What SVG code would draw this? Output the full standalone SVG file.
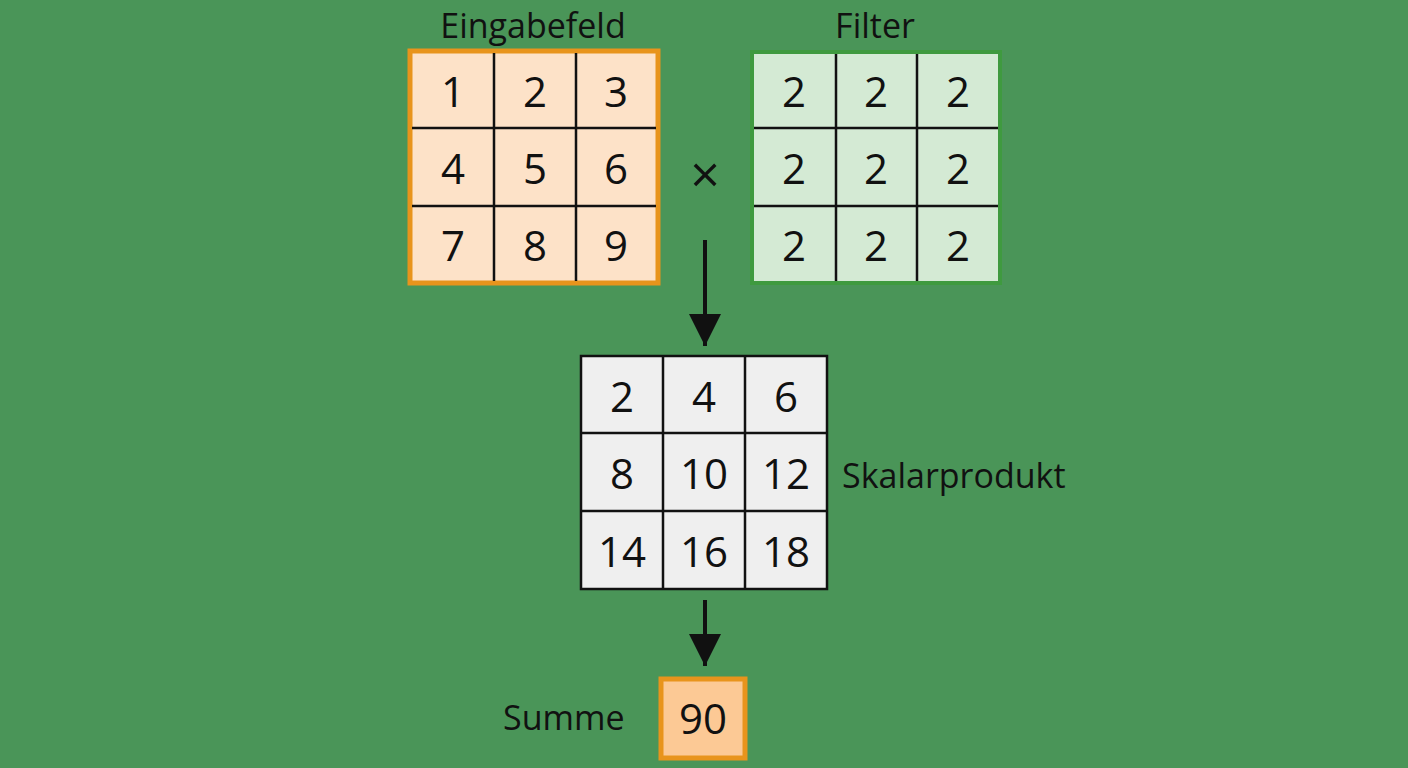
<svg xmlns="http://www.w3.org/2000/svg" width="1408" height="768" viewBox="0 0 1408 768">
<style>
text{font-family:"Open Sans","Noto Sans",sans-serif;fill:#111}
.n{font-size:42px;text-anchor:middle;dominant-baseline:central}
.l{font-size:34px}
.g{stroke:#111;stroke-width:2.5}
</style>
<defs><marker id="ah" markerWidth="8" markerHeight="8" refX="5" refY="4" orient="auto" markerUnits="userSpaceOnUse" viewBox="0 0 10 8"><path d="M0,0L10,4L0,8z" fill="#111"/></marker>
<marker id="a" viewBox="0 0 10 10" refX="10" refY="5" markerWidth="32" markerHeight="32" markerUnits="userSpaceOnUse" orient="auto"><path d="M0,0L10,5L0,10z" fill="#111"/></marker></defs>
<rect width="1408" height="768" fill="#4a9558"/>
<g id="input">
<text class="l" x="533" y="38" text-anchor="middle">Eingabefeld</text>
<rect x="410" y="51" width="248" height="232" fill="#fde2c8" stroke="#e8941c" stroke-width="5"/>
<path class="g" d="M494 53V281M576 53V281M412 128H656M412 206H656"/>
<text class="n" x="453" y="90">1</text><text class="n" x="535" y="90">2</text><text class="n" x="616" y="90">3</text>
<text class="n" x="453" y="167">4</text><text class="n" x="535" y="167">5</text><text class="n" x="616" y="167">6</text>
<text class="n" x="453" y="244">7</text><text class="n" x="535" y="244">8</text><text class="n" x="616" y="244">9</text>
</g>
<g id="times"><text x="705" y="172" class="n" style="font-size:52px">×</text></g>
<g id="filter">
<text class="l" x="875" y="38" text-anchor="middle">Filter</text>
<rect x="752" y="52" width="248" height="231" fill="#d4ead4" stroke="#3f9a3f" stroke-width="4"/>
<path class="g" d="M836 54V281M917 54V281M754 128H998M754 206H998"/>
<text class="n" x="794" y="90">2</text><text class="n" x="876" y="90">2</text><text class="n" x="958" y="90">2</text>
<text class="n" x="794" y="167">2</text><text class="n" x="876" y="167">2</text><text class="n" x="958" y="167">2</text>
<text class="n" x="794" y="244">2</text><text class="n" x="876" y="244">2</text><text class="n" x="958" y="244">2</text>
</g>
<g id="product">
<rect x="581" y="356" width="246" height="233" fill="#efefef" stroke="#111" stroke-width="2.5"/>
<path class="g" d="M663 356V589M745 356V589M581 433H827M581 511H827"/>
<text class="n" x="622" y="395">2</text><text class="n" x="704" y="395">4</text><text class="n" x="786" y="395">6</text>
<text class="n" x="622" y="472">8</text><text class="n" x="704" y="472">10</text><text class="n" x="786" y="472">12</text>
<text class="n" x="622" y="550">14</text><text class="n" x="704" y="550">16</text><text class="n" x="786" y="550">18</text>
<text class="l" x="842" y="488">Skalarprodukt</text>
</g>
<g id="sum">
<text class="l" x="503" y="730">Summe</text>
<rect x="661" y="679" width="84" height="79" fill="#fcc995" stroke="#e8941c" stroke-width="5"/>
<text class="n" x="703" y="717">90</text>
</g>
<g id="connectors" stroke="#111" stroke-width="4" fill="none">
<line x1="705" y1="240" x2="705" y2="346" marker-end="url(#a)"/>
<line x1="705" y1="600" x2="705" y2="666" marker-end="url(#a)"/>
</g>
</svg>
